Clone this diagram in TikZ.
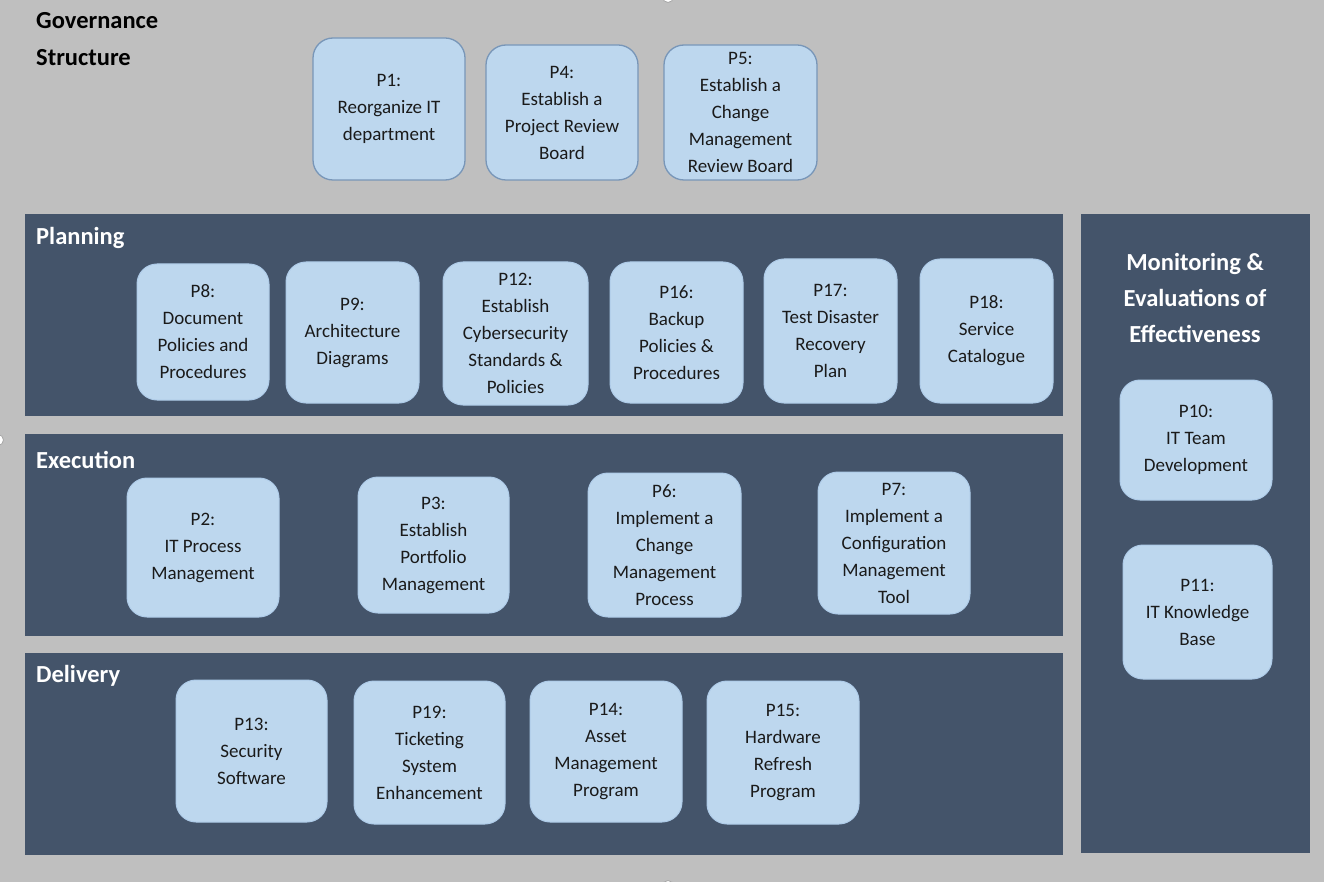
\documentclass[tikz,border=0pt]{standalone}
\usepackage{fontspec}
\setmainfont{Carlito}
\definecolor{bgc}{HTML}{BFBFBF}
\definecolor{panelc}{HTML}{44546A}
\definecolor{boxfill}{HTML}{BDD7EE}
\definecolor{govline}{HTML}{7896B8}
\definecolor{inline}{HTML}{AECBE8}
\definecolor{txt}{HTML}{1A1A1A}
\tikzset{
  pbox/.style={draw=inline, fill=boxfill, rounded corners=20pt, line width=1pt, align=center, text=txt, font=\fontsize{19}{27}\selectfont, inner sep=0pt},
  gbox/.style={pbox, draw=govline, line width=1.3pt},
  panel/.style={fill=panelc, draw=none},
  head/.style={font=\bfseries\fontsize{24.5}{37}\selectfont, text=white, anchor=west, inner sep=0pt},
  handle/.style={circle, draw=gray!70, fill=white, line width=0.8pt, minimum size=11pt, inner sep=0pt}
}
\begin{document}
\begin{tikzpicture}[x=1pt,y=-1pt]
\useasboundingbox (0,0) rectangle (1324,882);
\fill[bgc] (0,0) rectangle (1324,882);

% panels
\node[panel, anchor=north west, minimum width=1038pt, minimum height=202pt, inner sep=0pt] (planning) at (25,214) {};
\node[panel, anchor=north west, minimum width=1038pt, minimum height=202pt, inner sep=0pt] (execution) at (25,434) {};
\node[panel, anchor=north west, minimum width=1038pt, minimum height=202pt, inner sep=0pt] (delivery) at (25,653) {};
\node[panel, anchor=north west, minimum width=229pt, minimum height=639pt, inner sep=0pt] (monitoring) at (1081,214) {};

% headers
\node[head, text=black, align=left, anchor=north west] (govhead) at (36,12) {Governance\\Structure};
\node[head] (planhead) at (36,238) {Planning};
\node[head] (exechead) at (36,460) {Execution};
\node[head] (delhead) at (36,676) {Delivery};
\node[head, anchor=center, align=center, font=\bfseries\fontsize{24.5}{36}\selectfont] (monhead) at (1195,298) {Monitoring \&\\Evaluations of\\Effectiveness};

% governance
\node[gbox, minimum width=152pt, minimum height=142pt] (p1) at (389,109) {P1:\\Reorganize IT\\department};
\node[gbox, minimum width=152pt, minimum height=135pt] (p4) at (562,112.5) {P4:\\Establish a\\Project Review\\Board};
\node[gbox, minimum width=153pt, minimum height=135pt] (p5) at (740.5,112.5) {P5:\\Establish a\\Change\\Management\\Review Board};

% planning
\node[pbox, minimum width=132pt, minimum height=136pt] (p8) at (203,332) {P8:\\Document\\Policies and\\Procedures};
\node[pbox, minimum width=133pt, minimum height=141pt] (p9) at (352.5,332.5) {P9:\\Architecture\\Diagrams};
\node[pbox, minimum width=145pt, minimum height=143pt] (p12) at (515.5,333.5) {P12:\\Establish\\Cybersecurity\\Standards \&\\Policies};
\node[pbox, minimum width=133pt, minimum height=141pt] (p16) at (676.5,332.5) {P16:\\Backup\\Policies \&\\Procedures};
\node[pbox, minimum width=133pt, minimum height=144pt] (p17) at (830.5,331) {P17:\\Test Disaster\\Recovery\\Plan};
\node[pbox, minimum width=133pt, minimum height=144pt] (p18) at (986.5,331) {P18:\\Service\\Catalogue};

% execution
\node[pbox, minimum width=152pt, minimum height=139pt] (p2) at (203,547.5) {P2:\\IT Process\\Management};
\node[pbox, minimum width=151pt, minimum height=136pt] (p3) at (433.5,545) {P3:\\Establish\\Portfolio\\Management};
\node[pbox, minimum width=153pt, minimum height=144pt] (p6) at (664.5,545) {P6:\\Implement a\\Change\\Management\\Process};
\node[pbox, minimum width=152pt, minimum height=142pt] (p7) at (894,543) {P7:\\Implement a\\Configuration\\Management\\Tool};

% delivery
\node[pbox, minimum width=151pt, minimum height=142pt] (p13) at (251.5,751) {P13:\\Security\\Software};
\node[pbox, minimum width=151pt, minimum height=143pt] (p19) at (429.5,752.5) {P19:\\Ticketing\\System\\Enhancement};
\node[pbox, minimum width=152pt, minimum height=141pt] (p14) at (606,751.5) {P14:\\Asset\\Management\\Program};
\node[pbox, minimum width=152pt, minimum height=143pt] (p15) at (783,752.5) {P15:\\Hardware\\Refresh\\Program};

% monitoring
\node[pbox, minimum width=152pt, minimum height=120pt] (p10) at (1196,440) {P10:\\IT Team\\Development};
\node[pbox, minimum width=149pt, minimum height=134pt] (p11) at (1197.5,612) {P11:\\IT Knowledge\\Base};

% selection handles (partly outside)
\node[handle] (htop) at (668,-3) {};
\node[handle] (hleft) at (-2,440) {};
\node[handle] (hbot) at (668,886) {};
\end{tikzpicture}
\end{document}
